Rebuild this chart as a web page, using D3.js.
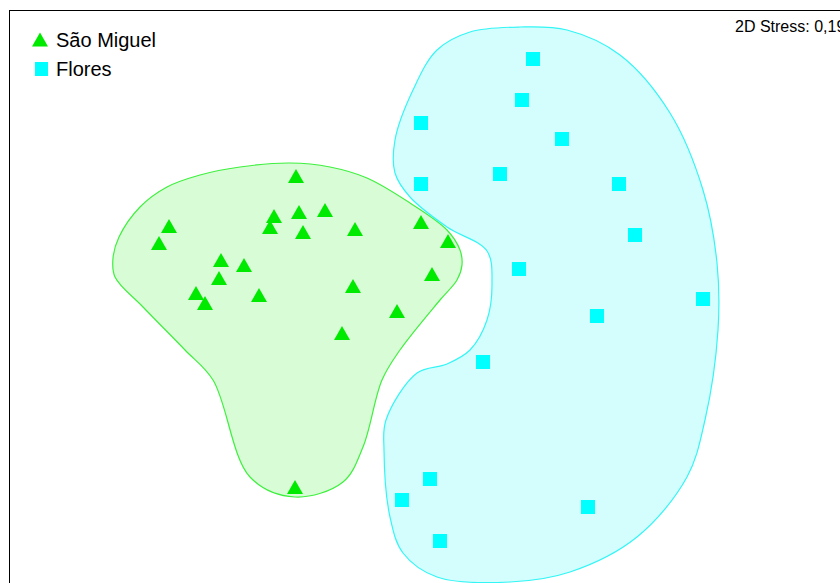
<!DOCTYPE html>
<html>
<head>
<meta charset="utf-8">
<script src="https://cdn.jsdelivr.net/npm/d3@7"></script>
<style>
  html, body { margin: 0; padding: 0; background: #fff; overflow: hidden; }
  svg { display: block; font-family: "Liberation Sans", Arial, sans-serif; }
</style>
</head>
<body>
<div id="chart"></div>
<script>
// NMDS-Koordinaten (in Plot-Einheiten)
const groups = ["São Miguel", "Flores"];

const saoMiguelX = [296, 169, 159, 274, 299, 325, 270, 303, 355, 421, 448, 221, 244, 219, 432, 353, 196, 205, 259, 397, 342, 295];
const saoMiguelY = [176, 226, 243, 216, 212, 210, 227, 232, 229, 222, 241, 260, 265, 278, 274, 286, 293, 303, 295, 311, 333, 487];

const floresX = [533, 522, 421, 562, 421, 500, 619, 635, 519, 703, 597, 483, 430, 402, 588, 440];
const floresY = [59, 100, 123, 139, 184, 174, 184, 235, 269, 299, 316, 362, 479, 500, 507, 541];

// Umrisse der Gruppen
const saoMiguelHullX = [290, 330, 367, 410, 447, 460, 462, 457, 440, 400, 382, 363, 343, 295, 250, 213, 185, 143, 115, 113, 119, 140, 167, 200, 240];
const saoMiguelHullY = [163, 167, 178, 203, 230, 250, 265, 280, 300, 350, 380, 447, 482, 497, 477, 380, 350, 307, 277, 258, 237, 207, 187, 175, 167];

const floresHullX = [520, 567, 620, 670, 703, 717, 718, 705, 687, 637, 570, 510, 437, 403, 390, 384, 386, 417, 447, 470, 487, 492, 487, 447, 410, 395, 395, 413, 437, 470];
const floresHullY = [27, 30, 55, 113, 190, 263, 330, 420, 477, 537, 572, 582, 577, 553, 517, 450, 420, 373, 364, 350, 320, 283, 251, 227, 197, 173, 140, 90, 50, 32];

const stressLabel = "2D Stress: 0,19";

const width = 840, height = 583;

const x = d3.scaleLinear().domain([0, 840]).range([0, width]);
const y = d3.scaleLinear().domain([0, 583]).range([0, height]);

const svg = d3.select("#chart").append("svg")
    .attr("width", width)
    .attr("height", height);

// Rahmen
svg.append("rect")
    .attr("x", 9.5).attr("y", 10.5)
    .attr("width", width + 20).attr("height", height + 20)
    .attr("fill", "none")
    .attr("stroke", "#000")
    .attr("stroke-width", 1);

const hull = d3.line()
    .x(d => x(d[0]))
    .y(d => y(d[1]))
    .curve(d3.curveCatmullRomClosed.alpha(0.5));

svg.append("path")
    .attr("d", hull(d3.zip(saoMiguelHullX, saoMiguelHullY)))
    .attr("fill", "#d8fcd6")
    .attr("stroke", "#3ef03e")
    .attr("stroke-width", 1.2);

svg.append("path")
    .attr("d", hull(d3.zip(floresHullX, floresHullY)))
    .attr("fill", "#d4fefe")
    .attr("stroke", "#33f5f5")
    .attr("stroke-width", 1.2);

// Dreieck mit Mittelpunkt der Bounding-Box
function triangle(cx, cy, w, h) {
    return `M${cx},${cy - h / 2}L${cx + w / 2},${cy + h / 2}L${cx - w / 2},${cy + h / 2}Z`;
}

svg.append("g")
    .selectAll("path")
    .data(d3.zip(saoMiguelX, saoMiguelY))
    .join("path")
    .attr("d", d => triangle(x(d[0]), y(d[1]), 16, 14))
    .attr("fill", "#00ea00");

svg.append("g")
    .selectAll("rect")
    .data(d3.zip(floresX, floresY))
    .join("rect")
    .attr("x", d => x(d[0]) - 7)
    .attr("y", d => y(d[1]) - 7)
    .attr("width", 14)
    .attr("height", 14)
    .attr("fill", "#00ffff");

// Legende
const legend = svg.append("g");
legend.append("path")
    .attr("d", triangle(40, 39.5, 16, 14))
    .attr("fill", "#00ea00");
legend.append("text")
    .attr("x", 56).attr("y", 47)
    .attr("font-size", "20px")
    .text(groups[0]);
legend.append("rect")
    .attr("x", 35).attr("y", 62)
    .attr("width", 13).attr("height", 14)
    .attr("fill", "#00ffff");
legend.append("text")
    .attr("x", 56).attr("y", 76)
    .attr("font-size", "20px")
    .text(groups[1]);

svg.append("text")
    .attr("x", 735).attr("y", 32)
    .attr("font-size", "16px")
    .text(stressLabel);
</script>
</body>
</html>
